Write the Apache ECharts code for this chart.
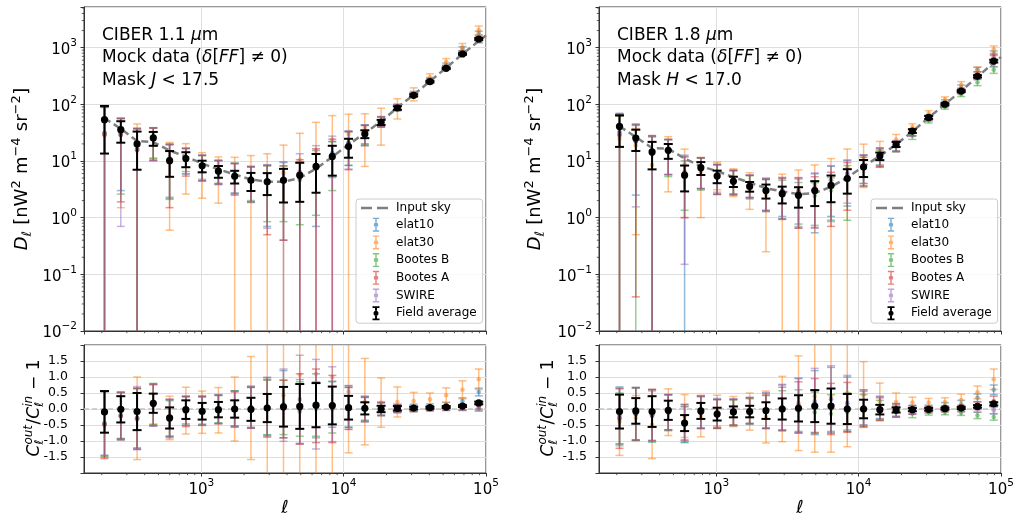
<!DOCTYPE html>
<html><head><meta charset="utf-8">
<script src="https://cdn.jsdelivr.net/npm/echarts@6/dist/echarts.min.js"></script>
<style>html,body{margin:0;padding:0;background:#fff}#c{width:1013px;height:517px}</style>
</head><body><div id="c"></div>
<script>
// ---------------- data ----------------
const ell = [209,272,354,460,599,779,1014,1319,1716,2233,2905,3779,4917,6397,8323,10829,14088,18330,23849,31030,40372,52526,68340,88916];
const ellSky = [209,272,354,460,599,779,1014,1319,1716,2233,2905,3779,4917,6397,8323,10829,14088,18330,23849,31030,40372,52526,68340,88916,100000];
const fieldNames = ['elat10','elat30','Bootes B','Bootes A','SWIRE'];
const fieldColors = ['#1f77b4','#ff7f0e','#2ca02c','#d62728','#9467bd'];

// Left: CIBER 1.1 um, D_ell
const skyL = [57,37,22.5,21.5,15.2,12,9,7.1,5.8,4.7,4.3,4.3,5.0,7.3,11.8,19.5,31,50,87,147,255,440,770,1300,1640];
const tlAvgV = [53.5,35.6,20,25.5,10.1,11,8.2,6.6,5.35,4.55,4.3,4.55,5.6,8.0,12,18,30,48,86,144,250,430,771,1418];
const tlAvgS = [40,14.6,13,7,4.85,3.25,1.9,1.55,1.35,1.6,1.8,2.7,3.7,5.25,6.5,6.6,4.75,5,6,6,8,13,23,52];
const tlE10V = [31.4,29.6,15.3,24.1,10.6,11.3,8.55,7.1,5.9,4.9,4.6,4.9,4.6,8.0,13.6,21,31.6,50.5,89.6,154,275,493,962,1800];
const tlE10S = [57,26.6,21.4,13.8,8.5,5.4,4.05,3.2,3.2,3.05,3.9,4.5,5.0,7.3,8.5,12.7,11.5,10,10.4,14.7,20,40,77,150];
const tlE30V = [29.6,28.9,16,24.5,10.9,11.4,8.1,6.8,5.8,4.85,4.4,6.15,10.35,15.3,23.6,29.8,38,52,90,155,300,560,1000,2050];
const tlE30S = [58.7,27.4,29,13.3,10.3,8.8,5.9,5.0,5.8,7.6,9,12.9,20.4,32.7,39.4,37,30,33,35,40,45,80,180,350];
const tlBBV = [30.2,29.6,16.2,24.9,10.9,11.5,8.55,7.1,5.9,4.9,4.5,4.5,5.0,7.3,12.4,20.5,31,49.5,87,147,260,453,800,1365];
const tlBBS = [58,27,20.9,13.8,8.7,5.0,3.8,3.05,3.2,2.9,3.65,3.65,4.25,6.2,9.4,12.1,11.5,10,10.4,11.8,18,31,62,130];
const tlBAV = [28.5,28.9,15.75,24.3,10.6,11,8.5,7.0,5.7,4.9,4.4,4.3,5.0,8.0,11.8,19.9,30.4,50,88,147,260,453,808,1430];
const tlBAS = [60,27,21.4,14,9.1,5.6,4.05,3.1,3.2,3.0,3.9,3.9,5.5,8.4,12.4,12.9,11.8,10,10.4,11.8,18,31,62,130];
const tlSWV = [31.4,28.5,16.4,24.1,11.1,11.4,8.55,7.0,5.8,5.0,4.6,4.8,6.5,8.4,13.6,20.5,31,50,89,147,258,449,793,1326];
const tlSWS = [57,27.8,21.8,14.2,8.8,5.5,4.15,3.2,3.25,3.1,3.95,4.9,6.9,10.2,13.8,13.3,12.4,10.5,10.4,11.8,18,31,62,117];

// Left ratio panel
const blAvgR = [-0.09,-0.01,-0.08,0.18,-0.28,-0.02,-0.07,-0.02,0.0,-0.01,0.03,0.07,0.08,0.12,0.11,0.04,0.02,0.0,0.02,0.03,0.04,0.06,0.09,0.19];
const blAvgS = [0.65,0.41,0.58,0.30,0.33,0.29,0.26,0.24,0.27,0.36,0.44,0.62,0.70,0.69,0.59,0.37,0.19,0.10,0.07,0.04,0.03,0.03,0.03,0.04];
const blE10R = [-0.45,-0.2,-0.32,0.12,-0.3,-0.06,-0.05,0.0,0.02,0.05,0.08,0.15,-0.08,0.1,0.15,0.08,0.02,0.01,0.03,0.05,0.08,0.12,0.25,0.53];
const blE10S = [1.0,0.72,0.95,0.64,0.56,0.45,0.45,0.45,0.55,0.65,0.9,1.05,1.0,1.0,0.72,0.65,0.37,0.2,0.12,0.1,0.08,0.09,0.1,0.12];
const blE30R = [-0.48,-0.22,-0.29,0.14,-0.28,-0.05,-0.1,-0.04,0.0,0.03,0.03,0.43,1.07,1.1,1.0,0.53,0.23,0.2,0.22,0.25,0.3,0.43,0.6,0.93];
const blE30S = [1.03,0.74,1.29,0.62,0.68,0.73,0.66,0.71,1.0,1.61,2.6,2.6,5.0,4.5,3.3,1.9,1.35,0.77,0.47,0.27,0.2,0.23,0.28,0.32];
const blBBR = [-0.47,-0.2,-0.28,0.16,-0.28,-0.04,-0.05,0.0,0.02,0.05,0.05,0.05,0.0,0.0,0.05,0.05,0.0,-0.01,0.0,0.0,0.02,0.03,0.04,0.05];
const blBBS = [1.02,0.73,0.93,0.64,0.57,0.42,0.42,0.43,0.55,0.62,0.85,0.85,0.85,0.85,0.8,0.62,0.37,0.2,0.12,0.08,0.07,0.07,0.08,0.1];
const blBAR = [-0.5,-0.22,-0.3,0.13,-0.3,-0.08,-0.06,-0.02,-0.02,0.04,0.02,0.0,0.0,0.1,0.0,0.02,-0.02,0.0,0.01,0.0,0.02,0.03,0.05,0.1];
const blBAS = [1.05,0.73,0.95,0.65,0.6,0.47,0.45,0.44,0.55,0.64,0.9,0.9,1.1,1.15,1.05,0.66,0.38,0.2,0.12,0.08,0.07,0.07,0.08,0.1];
const blSWR = [-0.45,-0.23,-0.27,0.12,-0.27,-0.05,-0.05,-0.01,0.0,0.06,0.07,0.12,0.3,0.15,0.15,0.05,0.0,0.0,0.02,0.0,0.01,0.02,0.03,0.02];
const blSWS = [1.0,0.75,0.97,0.66,0.58,0.46,0.46,0.45,0.56,0.66,0.92,1.13,1.38,1.4,1.17,0.68,0.4,0.21,0.12,0.08,0.07,0.07,0.08,0.09];

// Right: CIBER 1.8 um, D_ell
const skyR = [41,26.4,16.9,16.5,11,8.1,6.6,5.2,4.14,3.3,2.9,2.6,2.7,3.5,5.1,8.0,12.2,19.5,33,58,100,172,305,540,680];
const trAvgV = [40.7,25.3,14.4,15.4,5.6,7.6,5.4,4.37,3.56,3.0,2.65,2.47,3.0,3.7,4.9,7.8,12.2,19.6,33.7,58.7,100,171,311,578];
const trAvgS = [23,10.3,7.3,4.5,2.7,1.95,1.35,0.9,0.69,0.83,0.87,0.97,1.4,1.83,2.25,2.6,1.85,2.0,2.5,3.5,4,6,14,32];
const trE10V = [32.8,22.4,13.5,14.85,6.05,7.3,5.6,4.7,3.93,3.14,3.05,2.86,3.24,4.55,5.9,8.4,12.8,18.9,32.3,59,110,198,412,800];
const trE10S = [36.5,19.9,14,9.1,6.6,4.05,3.0,2.1,1.66,1.8,2.0,2.2,2.7,3.5,4.3,4.4,4.3,3.9,4.6,5.8,10,20,37,75];
const trE30V = [24.6,19,8.45,14.85,8.6,6.3,6.3,4.8,3.8,2.5,2.9,3.07,3.8,4.9,7.65,11.6,15.1,23.8,39.6,69.6,122,220,395,930];
const trE30S = [43,18.5,17.7,12,7.6,5.3,3.2,2.45,2.4,2.25,2.96,3.85,4.7,6.1,8.6,8.2,7,5.5,5.6,7.5,13,31,60,140];
const trBBV = [28.7,21.9,13.2,14.5,5.7,7.1,5.6,4.6,3.8,2.97,2.75,2.47,2.43,3.0,4.6,7.6,11.6,17.9,28,52,90,151,244,405];
const trBBS = [32.8,22.2,13.9,9.2,4.35,4.05,3.0,2.1,1.66,1.7,1.8,1.7,1.7,2.1,3.7,4.0,3.9,3.5,4,5.2,8,14,31,54];
const trBAV = [28.7,22.4,13.9,14.85,6.4,7.3,5.55,4.7,3.93,3.04,2.9,2.73,2.97,3.5,5.35,8.0,12.2,18.5,32,57,100,175,335,675];
const trBAS = [38,22.36,14.2,9.1,5.4,4.05,3.0,2.1,1.66,1.72,1.97,2.08,2.3,2.8,4.0,4.4,4.3,3.9,4.3,5.8,9,17,37,81];
const trSWV = [30.8,22.4,13.5,14.85,6.05,7.3,5.8,4.7,3.93,3.14,3.05,2.9,3.4,4.55,6.1,8.4,12.6,18.9,32,57,100,172,305,513];
const trSWS = [36.9,20.85,13.8,9.1,5.9,4.05,3.0,2.2,1.74,1.8,2.1,2.2,2.75,3.7,4.3,4.4,4.3,3.9,4.3,5.8,9,15.5,30,54];

// Right ratio panel
const brAvgR = [-0.08,-0.06,-0.08,-0.04,-0.44,-0.06,-0.16,-0.09,-0.08,-0.05,0.0,0.02,0.09,0.09,0.0,0.0,-0.02,-0.03,-0.02,-0.01,0.01,0.03,0.08,0.16];
const brAvgS = [0.53,0.4,0.48,0.3,0.25,0.25,0.2,0.17,0.18,0.26,0.33,0.41,0.5,0.55,0.47,0.29,0.15,0.08,0.05,0.04,0.03,0.03,0.04,0.05];
const brE10R = [-0.2,-0.15,-0.2,-0.1,-0.45,-0.1,-0.15,-0.1,-0.05,-0.05,0.05,0.1,0.2,0.3,0.15,0.05,0.05,-0.03,-0.02,0.02,0.1,0.15,0.35,0.6];
const brE10S = [0.89,0.82,0.8,0.55,0.6,0.5,0.45,0.4,0.4,0.55,0.7,0.85,1.0,1.0,0.85,0.55,0.35,0.2,0.14,0.1,0.1,0.12,0.12,0.15];
const brE30R = [-0.4,-0.28,-0.5,-0.1,-0.22,-0.22,-0.05,-0.08,-0.08,-0.25,0.0,0.18,0.4,0.4,0.5,0.45,0.24,0.22,0.2,0.2,0.22,0.28,0.52,0.93];
const brE30S = [1.05,0.7,1.05,0.73,0.67,0.65,0.48,0.47,0.58,0.81,1.02,1.48,1.75,1.75,1.68,1.03,0.57,0.28,0.17,0.13,0.13,0.18,0.2,0.32];
const brBBR = [-0.3,-0.17,-0.22,-0.12,-0.48,-0.12,-0.15,-0.12,-0.08,-0.1,-0.05,-0.05,-0.1,-0.15,-0.1,-0.05,-0.05,-0.08,-0.15,-0.1,-0.1,-0.12,-0.2,-0.25];
const brBBS = [0.8,0.82,0.82,0.56,0.55,0.5,0.45,0.4,0.4,0.52,0.62,0.65,0.63,0.6,0.6,0.5,0.32,0.18,0.12,0.09,0.08,0.08,0.1,0.1];
const brBAR = [-0.3,-0.15,-0.18,-0.1,-0.42,-0.1,-0.16,-0.1,-0.05,-0.08,0.0,0.05,0.1,0.0,0.05,0.0,0.0,-0.05,-0.03,-0.02,0.0,0.02,0.1,0.25];
const brBAS = [0.93,0.82,0.8,0.55,0.55,0.5,0.45,0.4,0.4,0.52,0.68,0.8,0.85,0.8,0.78,0.55,0.35,0.2,0.13,0.1,0.09,0.1,0.12,0.15];
const brSWR = [-0.25,-0.15,-0.2,-0.1,-0.45,-0.1,-0.12,-0.1,-0.05,-0.05,0.05,0.12,0.25,0.3,0.2,0.05,0.03,-0.03,-0.03,-0.02,0.0,0.0,0.0,-0.05];
const brSWS = [0.9,0.82,0.8,0.55,0.53,0.5,0.45,0.42,0.42,0.55,0.72,0.85,1.02,1.05,0.85,0.55,0.35,0.2,0.13,0.1,0.09,0.09,0.1,0.1];

// minor tick values (matplotlib-style log minor ticks)
const xMinorTicks = [200,300,400,500,600,700,800,900,2000,3000,4000,5000,6000,7000,8000,9000,20000,30000,40000,50000,60000,70000,80000,90000];
const yMinorTicks = [0.02,0.03,0.04,0.05,0.06,0.07,0.08,0.09,0.2,0.3,0.4,0.5,0.6,0.7,0.8,0.9,2,3,4,5,6,7,8,9,20,30,40,50,60,70,80,90,200,300,400,500,600,700,800,900,2000,3000,4000,5000];

// ---------------- helpers ----------------
const FF = '"DejaVu Sans"';
const AX = '#333';
const GRIDC = '#dedede';
const chart = echarts.init(document.getElementById('c'), null, {renderer:'canvas'});

function ebRender(color, lw, cap, r, op, isLog){
  return function(params, api){
    const cs = params.coordSys; const top = cs.y, bot = cs.y + cs.height;
    const x = api.value(0), v = api.value(1), lo = api.value(2), hi = api.value(3);
    const p = api.coord([x, v]);
    const yOf = val => (isLog && val <= 0) ? bot + 10000 : api.coord([x, val])[1];
    const yLo = yOf(lo), yHi = yOf(hi);
    const xp = p[0]; const kids = [];
    const st = {stroke: color, lineWidth: lw, opacity: op};
    const y1 = Math.max(top, Math.min(bot, yHi)), y2 = Math.max(top, Math.min(bot, yLo));
    if (y2 > y1) kids.push({type:'line', shape:{x1:xp, y1:y1, x2:xp, y2:y2}, style:st});
    [yHi, yLo].forEach(yy => { if (yy >= top - 0.5 && yy <= bot + 0.5) kids.push({type:'line', shape:{x1:xp-cap, y1:yy, x2:xp+cap, y2:yy}, style:st}); });
    if (p[1] >= top && p[1] <= bot) kids.push({type:'circle', shape:{cx:xp, cy:p[1], r:r}, style:{fill:color, opacity:op}});
    return {type:'group', children:kids};
  };
}
function ebData(vals, sig){ return ell.map((x,i) => [x, vals[i], vals[i]-sig[i], vals[i]+sig[i]]); }
function ebSeries(name, idx, vals, sig, color, black, isLog){
  return {
    type:'custom', name:name, xAxisIndex:idx, yAxisIndex:idx, z: black ? 5 : 2,
    renderItem: black ? ebRender(color, 2, 4.5, 3.6, 1, isLog) : ebRender(color, 1.5, 4, 2.3, 0.5, isLog),
    encode:{x:0, y:1}, data: ebData(vals, sig), itemStyle:{color:color}, silent:true
  };
}
function xMinorSeries(idx, yRef){
  return {type:'custom', xAxisIndex:idx, yAxisIndex:idx, silent:true, z:1, encode:{x:0,y:1},
    data: xMinorTicks.map(t => [t, yRef]),
    renderItem: (params, api) => { const cs = params.coordSys; const px = api.coord([api.value(0), yRef])[0]; const y0 = cs.y + cs.height;
      return {type:'line', shape:{x1:px, y1:y0, x2:px, y2:y0+2.2}, style:{stroke:AX, lineWidth:0.8}}; }};
}
function yMinorSeries(idx){
  return {type:'custom', xAxisIndex:idx, yAxisIndex:idx, silent:true, z:1, encode:{x:0,y:1},
    data: yMinorTicks.map(t => [1000, t]),
    renderItem: (params, api) => { const cs = params.coordSys; const py = api.coord([1000, api.value(1)])[1];
      return {type:'line', shape:{x1:cs.x-2.2, y1:py, x2:cs.x, y2:py}, style:{stroke:AX, lineWidth:0.8}}; }};
}

// text helpers
const mctx = document.createElement('canvas').getContext('2d');
function tw(t, f, it){ mctx.font = (it ? 'italic ' : '') + f + 'px ' + FF; return mctx.measureText(t).width; }
function tnode(t, x, base, f, it){
  return {type:'text', x:x, y: base - 0.32*f, silent:true,
    style:{text:t, font:(it ? 'italic ' : '') + f + 'px ' + FF, fill:'#000', align:'left', verticalAlign:'middle'}};
}
function mathLine(segs, F){
  let x = 0; const kids = [];
  segs.forEach(s => {
    if (s.sup !== undefined || s.sub !== undefined){
      const f = Math.round(F*0.7); let w = 0;
      if (s.sup){ kids.push(tnode(s.sup, x, -0.42*F, f, s.it)); w = Math.max(w, tw(s.sup, f, s.it)); }
      if (s.sub){ kids.push(tnode(s.sub, x, 0.22*F, f, s.subIt)); w = Math.max(w, tw(s.sub, f, s.subIt)); }
      x += w + 0.5;
    } else { kids.push(tnode(s.t, x, 0, F, s.it)); x += tw(s.t, F, s.it); }
  });
  return {kids:kids, width:x};
}
function centeredRotated(segs, F, cx, cy){
  const m = mathLine(segs, F);
  m.kids.forEach(k => { k.x -= m.width/2; });
  return {type:'group', x:cx, y:cy, rotation:Math.PI/2, children:m.kids, silent:true};
}
function leftLine(segs, F, x, base){
  const m = mathLine(segs, F);
  return {type:'group', x:x, y:base, children:m.kids, silent:true};
}

const segsD = [{t:'D',it:1},{sub:'ℓ',subIt:1},{t:' [nW'},{sup:'2'},{t:' m'},{sup:'−4'},{t:' sr'},{sup:'−2'},{t:']'}];
const segsC = [{t:'C',it:1},{sup:'out',it:1,sub:'ℓ',subIt:1},{t:'/'},{t:'C',it:1},{sup:'in',it:1,sub:'ℓ',subIt:1},{t:' − 1'}];
function annot(x, band, mag, val){
  return [
    leftLine([{t:'CIBER ' + band + ' '},{t:'μ',it:1},{t:'m'}], 17, x, 41.5),
    leftLine([{t:'Mock data ('},{t:'δ',it:1},{t:'['},{t:'FF',it:1},{t:'] ≠ 0)'}], 17, x, 63.5),
    leftLine([{t:'Mask '},{t:mag,it:1},{t:' < ' + val}], 17, x, 86)
  ];
}

// ---------------- axes ----------------
const grids = [
  {left:84, top:7, width:402, height:324},
  {left:84, top:345, width:402, height:128},
  {left:599, top:7, width:402, height:324},
  {left:599, top:345, width:402, height:128}
].map(g => Object.assign(g, {show:true, borderColor:AX, borderWidth:1, backgroundColor:'rgba(0,0,0,0)', containLabel:false, outerBoundsMode:'none'}));

function powLabel(v){
  const l = Math.log10(v), e = Math.round(l);
  if (Math.abs(l - e) > 1e-6) return '';
  return '{b|10}{s|' + (e < 0 ? '−' + (-e) : e) + '}';
}
const powRich = {b:{fontFamily:FF, fontSize:15, color:'#000', lineHeight:20, verticalAlign:'bottom'},
                 s:{fontFamily:FF, fontSize:10.5, color:'#000', lineHeight:11, verticalAlign:'top'}};

const xAxes = [0,1,2,3].map(i => ({
  type:'log', logBase:10, min:150, max:100000, gridIndex:i,
  axisLine:{show:true, onZero:false, lineStyle:{color:AX, width:1}},
  axisTick:{show:true, length:3.5, lineStyle:{color:AX, width:1}},
  minorTick:{show:false},
  axisLabel:{show: i % 2 === 1, formatter:powLabel, rich:powRich, margin:5, showMinLabel:false},
  splitLine:{show:true, lineStyle:{color:GRIDC, width:1}}
}));
const yAxes = [0,1,2,3].map(i => i % 2 === 0 ? ({
  type:'log', logBase:10, min:0.01, max:5200, gridIndex:i,
  axisLine:{show:true, onZero:false, lineStyle:{color:AX, width:1}},
  axisTick:{show:true, length:3.5, lineStyle:{color:AX, width:1}},
  axisLabel:{formatter:powLabel, rich:powRich, margin:7},
  splitLine:{show:true, lineStyle:{color:GRIDC, width:1}}
}) : ({
  type:'value', min:-2, max:2, interval:0.5, gridIndex:i,
  axisLine:{show:true, onZero:false, lineStyle:{color:AX, width:1}},
  axisTick:{show:true, length:3.5, lineStyle:{color:AX, width:1}},
  axisLabel:{formatter: v => Math.abs(v) > 1.9 ? '' : (v < 0 ? '-' : '') + Math.abs(v).toFixed(1), fontFamily:FF, fontSize:12.5, color:'#000', margin:i === 1 ? 16 : 12},
  splitLine:{show:true, lineStyle:{color:GRIDC, width:1}}
}));

// ---------------- series ----------------
const series = [];
function panel(topIdx, sky, avgV, avgS, fV, fS, botIdx, avgR, avgRS, fR, fRS){
  fieldNames.forEach((n,k) => series.push(ebSeries(n, topIdx, fV[k], fS[k], fieldColors[k], false, true)));
  series.push({type:'line', name:'Input sky', xAxisIndex:topIdx, yAxisIndex:topIdx, z:3, silent:true,
    data: ellSky.map((x,i) => [x, sky[i]]), symbol:'none', showSymbol:false,
    itemStyle:{color:'#7f7f7f'}, lineStyle:{color:'#7f7f7f', width:2.5, type:[7,4]}});
  series.push(ebSeries('Field average', topIdx, avgV, avgS, '#000', true, true));
  series.push(xMinorSeries(topIdx, 1));
  series.push(yMinorSeries(topIdx));
  series.push({type:'line', name:'zero', xAxisIndex:botIdx, yAxisIndex:botIdx, z:1, silent:true,
    data:[[150,0],[100000,0]], symbol:'none', lineStyle:{color:'#c4c4c4', width:1.5, type:[5,3]}});
  fieldNames.forEach((n,k) => series.push(ebSeries(n, botIdx, fR[k], fRS[k], fieldColors[k], false, false)));
  series.push(ebSeries('Field average', botIdx, avgR, avgRS, '#000', true, false));
  series.push(xMinorSeries(botIdx, 0));
}
panel(0, skyL, tlAvgV, tlAvgS, [tlE10V,tlE30V,tlBBV,tlBAV,tlSWV], [tlE10S,tlE30S,tlBBS,tlBAS,tlSWS],
      1, blAvgR, blAvgS, [blE10R,blE30R,blBBR,blBAR,blSWR], [blE10S,blE30S,blBBS,blBAS,blSWS]);
panel(2, skyR, trAvgV, trAvgS, [trE10V,trE30V,trBBV,trBAV,trSWV], [trE10S,trE30S,trBBS,trBAS,trSWS],
      3, brAvgR, brAvgS, [brE10R,brE30R,brBBR,brBAR,brSWR], [brE10S,brE30S,brBBS,brBAS,brSWS]);

// ---------------- legend ----------------
const dashIcon = 'path://M0,0H11V2.4H0Z M16,0H27V2.4H16Z M30,0H30.01V2.4H30Z';
const ebIcon = 'path://M0.5,0H9.5V2H6V7H4V2H0.5Z M4,13H6V18H9.5V20H0.5V18H4Z M8.2,10A3.2,3.2,0,1,0,1.8,10A3.2,3.2,0,1,0,8.2,10Z';
const ebIconB = 'path://M0,0H10V2.6H6.4V6.4H3.6V2.6H0Z M3.6,13.6H6.4V17.4H10V20H0V17.4H3.6Z M8.6,10A3.6,3.6,0,1,0,1.4,10A3.6,3.6,0,1,0,8.6,10Z';
const legendData = [{name:'Input sky', icon:dashIcon, itemStyle:{color:'#7f7f7f'}}]
  .concat(fieldNames.map((n,k) => ({name:n, icon:ebIcon, itemStyle:{color:fieldColors[k], opacity:0.6}})))
  .concat([{name:'Field average', icon:ebIconB, itemStyle:{color:'#000'}}]);
const legends = [356, 871].map(lx => ({
  left:lx, top:199, orient:'vertical', itemWidth:30, itemHeight:14, itemGap:3.7,
  padding:[3,6,3,5], backgroundColor:'rgba(255,255,255,0.8)', borderColor:'#cccccc', borderWidth:1, borderRadius:3,
  textStyle:{fontFamily:FF, fontSize:12, color:'#000'}, selectedMode:false, data:legendData
}));

// ---------------- texts ----------------
const texts = []
  .concat(annot(102, '1.1', 'J', '17.5'))
  .concat(annot(617, '1.8', 'H', '17.0'))
  .concat([
    centeredRotated(segsD, 18, 28, 169),
    centeredRotated(segsD, 18, 541, 169),
    centeredRotated(segsC, 17, 40, 408),
    centeredRotated(segsC, 17, 554, 408),
    {type:'text', x:285, y:508, silent:true, style:{text:'ℓ', font:'italic 18px ' + FF, fill:'#000', align:'center', verticalAlign:'middle'}},
    {type:'text', x:800, y:508, silent:true, style:{text:'ℓ', font:'italic 18px ' + FF, fill:'#000', align:'center', verticalAlign:'middle'}}
  ]);

chart.setOption({
  animation:false, backgroundColor:'#fff',
  textStyle:{fontFamily:FF},
  grid:grids, xAxis:xAxes, yAxis:yAxes, series:series, legend:legends,
  graphic:{elements:texts}
});
</script></body></html>
